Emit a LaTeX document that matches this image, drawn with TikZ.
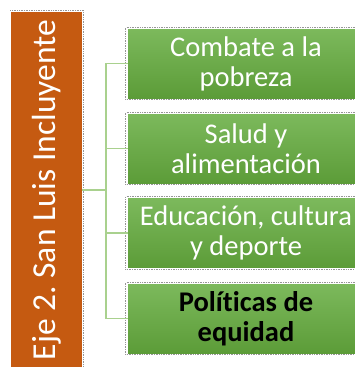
\documentclass[tikz,border=0pt]{standalone}
\usepackage{fontspec}
\setmainfont{Carlito}[Ligatures=NoCommon]
\frenchspacing
\definecolor{ejeorange}{RGB}{197,90,17}
\definecolor{gtop}{RGB}{124,185,92}
\definecolor{gbot}{RGB}{92,156,56}
\definecolor{linkgreen}{RGB}{169,209,142}
\definecolor{selgray}{RGB}{150,150,150}
\begin{document}
\begin{tikzpicture}[x=1pt,y=-1pt,
  gbox/.style={rectangle, top color=gtop, bottom color=gbot, draw=none,
    minimum width=236pt, minimum height=69pt, inner sep=0pt, text=white,
    align=center, font=\fontsize{28.5}{30}\selectfont},
  selframe/.style={draw=selgray, densely dotted, line width=0.7pt},
  link/.style={draw=linkgreen, line width=1.6pt}]
\useasboundingbox (0,0) rectangle (355,367);
\clip (0,0) rectangle (355,367);
\fill[white] (0,0) rectangle (355,367);
% orange vertical box
\node[rectangle, fill=ejeorange, minimum width=71pt, minimum height=356pt, inner sep=0pt] (eje) at (46.5,190) {};
\node[rotate=90, text=white, font=\fontsize{33.5}{36}\selectfont] (ejetext) at (47,190) {Eje 2. San Luis Incluyente};
\draw[selframe] ([shift={(1.5,-1.5)}]eje.north east) -- ([shift={(1.5,0)}]eje.south east);
\draw[selframe] ([shift={(-0.5,-1.5)}]eje.north west) -- ([shift={(1.5,-1.5)}]eje.north east);
% green boxes
\node[gbox] (b1) at (246,63.5) {Combate a la\\pobreza};
\node[gbox] (b2) at (246,148.5) {Salud y\\alimentación};
\node[gbox] (b3) at (246,233) {Educación, cultura\\y deporte};
\node[gbox, text=black, font=\fontsize{28.5}{30}\selectfont\bfseries] (b4) at (246,318.5) {Políticas de\\equidad};
\foreach \b in {b1,b2,b3,b4}{
  \draw[selframe] ([shift={(-2,1.5)}]\b.south west) rectangle ([shift={(2,-1.5)}]\b.north east);
}
% connectors
\coordinate (hub) at (106,190);
\draw[link] (eje.east) -- (hub);
\draw[link] (hub) |- (b1.west);
\draw[link] (hub) |- (b2.west);
\draw[link] (hub) |- (b3.west);
\draw[link] (hub) |- (b4.west);
\end{tikzpicture}
\end{document}
